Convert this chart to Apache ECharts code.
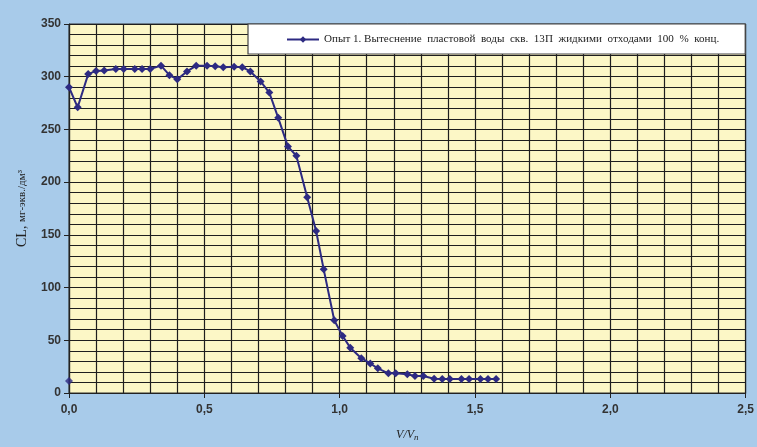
<!DOCTYPE html>
<html><head><meta charset="utf-8">
<script src="https://cdn.jsdelivr.net/npm/echarts@6/dist/echarts.min.js"></script>
<style>html,body{margin:0;padding:0;background:#a8cbea}#c{width:757px;height:447px}</style>
</head><body><div id="c"></div>
<script>
const seriesName = "Опыт 1. Вытеснение  пластовой  воды  скв.  13П  жидкими  отходами  100  %  конц.";
const xValues = [0.0,0.032,0.071,0.10,0.13,0.173,0.202,0.243,0.27,0.30,0.34,0.371,0.40,0.436,0.47,0.51,0.54,0.57,0.61,0.64,0.67,0.708,0.74,0.773,0.809,0.84,0.88,0.913,0.941,0.98,1.011,1.039,1.08,1.113,1.141,1.18,1.207,1.25,1.278,1.309,1.349,1.379,1.407,1.45,1.478,1.52,1.548,1.578];
const yValues = [290,271,302.5,305.5,306,307.3,307.3,307.3,307.3,307.3,310.5,301.5,297.5,305,310.5,310.5,310,309,309.5,309,305,295.5,285,261,233.7,225,185.6,153.7,117.3,69,54,43,33,28,23.4,18.7,18.7,17.7,16.1,16.1,13.5,13.2,13.2,13.2,13.2,13.2,13.2,13.2];
const extraPoint = [[0.0, 11.4]];
const xTicks = [0,0.5,1.0,1.5,2.0,2.5];
const yTicks = [0,50,100,150,200,250,300,350];

const lineData = xValues.map((x,i)=>[x,yValues[i]]);
const chart = echarts.init(document.getElementById('c'));
const gridLine = {show:true,lineStyle:{color:'#1e1e1e',width:1.2}};
chart.setOption({
  backgroundColor:'#a8cbea',
  animation:false,
  grid:{left:69,right:9,top:24,bottom:54,show:true,backgroundColor:'#fcf7c6',borderColor:'#333',borderWidth:1},
  legend:{
    left:248, top:24, width:502,
    padding:[10,26,9,38],
    backgroundColor:'#ffffff', borderColor:'#444', borderWidth:1.2,
    itemWidth:32, itemHeight:8, itemGap:6,
    textStyle:{fontFamily:'Liberation Serif',fontSize:11.1,color:'#222'},
    data:[{name:seriesName}]
  },
  xAxis:{
    type:'value', min:xTicks[0], max:xTicks[xTicks.length-1], interval:0.5,
    axisLine:{show:true,lineStyle:{color:'#222',width:1.2}},
    axisTick:{show:true,length:5,lineStyle:{color:'#222'}},
    axisLabel:{formatter:v=>v.toFixed(1).replace('.',','),color:'#333',fontFamily:'Liberation Sans',fontSize:12,fontWeight:'bold',margin:11},
    splitLine:gridLine,
    minorTick:{show:false,splitNumber:5},
    minorSplitLine:gridLine,
    name:'{v|V/V}{s|п}', nameLocation:'middle', nameGap:34,
    nameTextStyle:{rich:{v:{fontFamily:'Liberation Serif',fontStyle:'italic',fontSize:12,color:'#222'},s:{fontFamily:'Liberation Serif',fontStyle:'italic',fontSize:9,color:'#222',verticalAlign:'bottom',padding:[6,0,0,0]}}}
  },
  yAxis:{
    type:'value', min:yTicks[0], max:yTicks[yTicks.length-1], interval:50,
    axisLine:{show:true,lineStyle:{color:'#222',width:1.2}},
    axisTick:{show:true,length:5,lineStyle:{color:'#222'}},
    axisLabel:{color:'#333',fontFamily:'Liberation Sans',fontSize:12,fontWeight:'bold',margin:8},
    splitLine:gridLine,
    minorTick:{show:false,splitNumber:5},
    minorSplitLine:gridLine,
    name:'{a|CL, }{b|мг-экв./дм³}', nameLocation:'middle', nameGap:40, nameRotate:90,
    nameTextStyle:{rich:{a:{fontFamily:'Liberation Serif',fontSize:14,color:'#222'},b:{fontFamily:'Liberation Serif',fontSize:11,color:'#222'}}}
  },
  series:[
    {name:seriesName,type:'line',data:lineData,symbol:'diamond',symbolSize:8,
     lineStyle:{color:'#2d2a82',width:2},itemStyle:{color:'#2d2a82'},z:3},
    {name:'extra',type:'scatter',data:extraPoint,symbol:'diamond',symbolSize:8,itemStyle:{color:'#2d2a82'},z:3}
  ]
});
</script></body></html>
